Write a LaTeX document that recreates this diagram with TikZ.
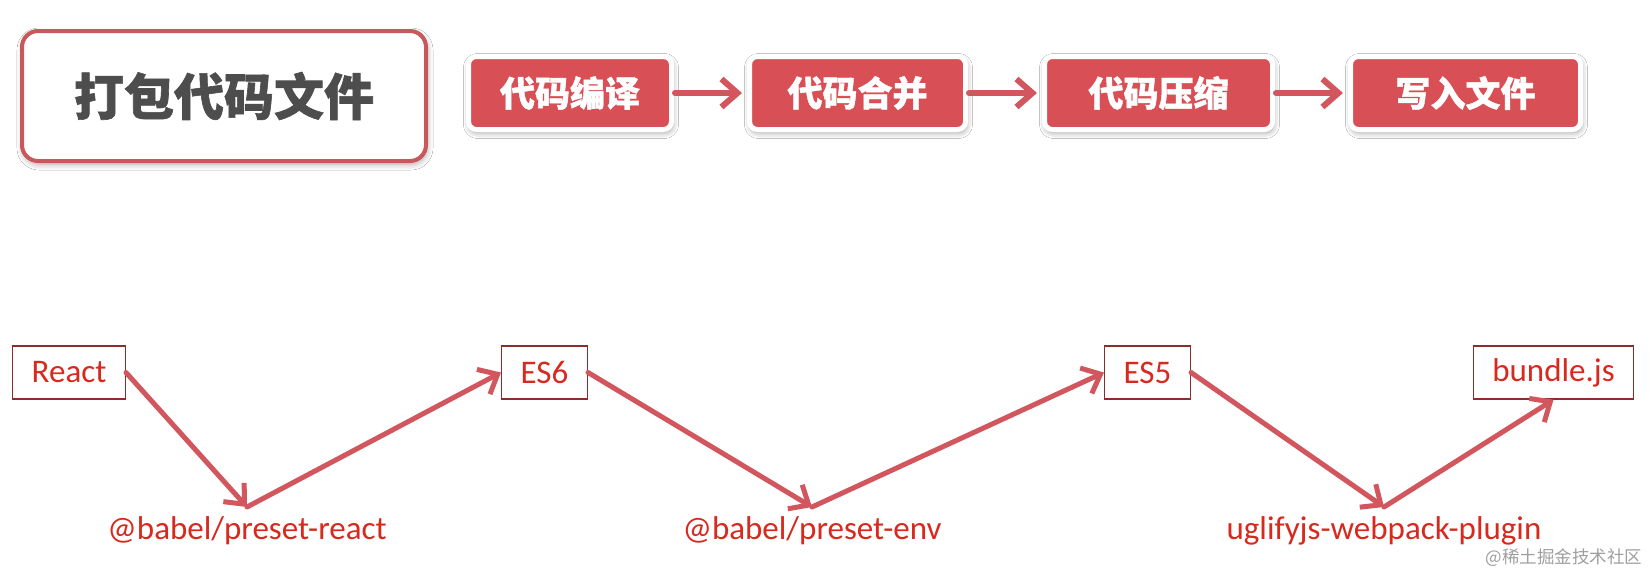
\documentclass[tikz,border=0pt]{standalone}
\usepackage{fontspec}
\setmainfont{Carlito}
\newfontfamily\cjk{Noto Sans CJK SC}[BoldFeatures={FakeBold=1.2}]
\definecolor{stepred}{HTML}{D94F56}
\definecolor{framered}{HTML}{C9585C}
\definecolor{arrred}{HTML}{D2565D}
\definecolor{txtred}{HTML}{D8291E}
\definecolor{boxred}{HTML}{8E2B2B}
\definecolor{titlegray}{HTML}{4D4D4D}
\usetikzlibrary{arrows.meta, positioning, shadows.blur}

\begin{document}
\begin{tikzpicture}[x=1pt, y=-1pt,
    title/.style={rectangle, draw=framered, line width=4pt, fill=white,
                  rounded corners=16pt, minimum width=404pt, minimum height=130pt,
                  font=\cjk\bfseries\fontsize{50}{60}\selectfont, text=titlegray,
                  blur shadow={shadow xshift=1pt, shadow yshift=-3pt,
                               shadow blur radius=6pt, shadow opacity=35}},
    stepbox/.style={rectangle, draw=white, line width=5pt, fill=stepred,
                  rounded corners=8pt, minimum height=73pt, text=white,
                  font=\cjk\bfseries\fontsize{35}{42}\selectfont,
                  blur shadow={shadow xshift=1pt, shadow yshift=-3pt,
                               shadow blur radius=6pt, shadow opacity=40}},
    fmt/.style={rectangle, draw=boxred, line width=1.4pt, text=txtred,
                inner xsep=19pt, minimum height=53pt,
                font=\fontsize{33}{39}\selectfont},
    tool/.style={text=txtred, font=\fontsize{33}{39}\selectfont,
                 inner xsep=2pt, inner ysep=9pt, anchor=north},
    wmark/.style={text=gray!75, font=\cjk\fontsize{17.5}{20}\selectfont},
    arr/.style={-{Straight Barb[length=16pt, width=28pt]}, line width=6pt,
                draw=arrred, line cap=round, shorten >=5pt, shorten <=1pt},
    flow/.style={-{Straight Barb[length=16pt, width=28pt]}, line width=5pt,
                 draw=arrred, line cap=round}
  ]
  \fill[white] (0,0) rectangle (1650,574);
  \useasboundingbox (0,0) rectangle (1650,574);

  \node[title] (pack) at (224,96) {打包代码文件};

  % the four steps
  \node[stepbox, minimum width=203pt] (compile) at (570,93)    {代码编译};
  \node[stepbox, minimum width=216pt] (merge)   at (857.5,93)  {代码合并};
  \node[stepbox, minimum width=228pt] (minify)  at (1158.5,93) {代码压缩};
  \node[stepbox, minimum width=230pt] (write)   at (1465.5,93) {写入文件};

  \draw[arr] (compile) -- (merge);
  \draw[arr] (merge)   -- (minify);
  \draw[arr] (minify)  -- (write);

  % formats and the tools between them
  \node[fmt] (react)  at (69,372.5)     {React};
  \node[fmt] (es6)    at (544.5,372.5)  {ES6};
  \node[fmt] (es5)    at (1147.5,372.5) {ES5};
  \node[fmt] (bundle) at (1553.5,372.5) {bundle.js};

  \node[tool] (prereact) at (247,507)  {@babel/preset-react};
  \node[tool] (preenv)   at (812,507)  {@babel/preset-env};
  \node[tool] (uglify)   at (1384,507) {uglifyjs-webpack-plugin};

  \draw[flow] (react.east)     -- (prereact.north);
  \draw[flow] (prereact.north) -- (es6.west);
  \draw[flow] (es6.east)       -- (preenv.north);
  \draw[flow] (preenv.north)   -- (es5.west);
  \draw[flow] (es5.east)       -- (uglify.north);
  \draw[flow] (uglify.north)   -- (bundle.south);

  \node[wmark] (juejin) at (1564,558) {@稀土掘金技术社区};
\end{tikzpicture}
\end{document}
